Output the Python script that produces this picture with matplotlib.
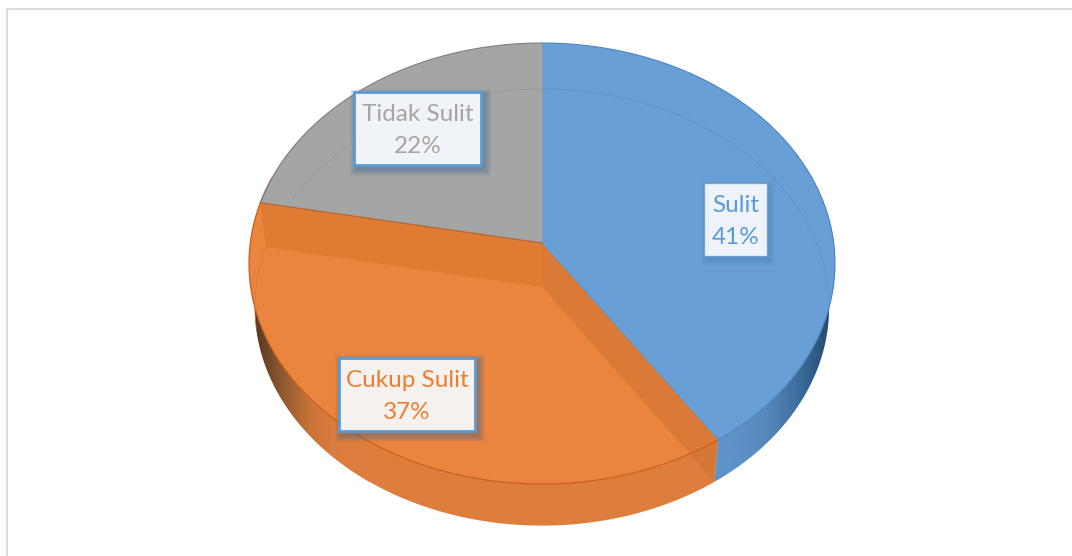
import numpy as np
import matplotlib
matplotlib.use("Agg")
import matplotlib.pyplot as plt
from matplotlib.colors import LinearSegmentedColormap
from matplotlib.patches import Polygon, Rectangle

# Data
categories = ["Sulit", "Cukup Sulit", "Tidak Sulit"]
values = [40.6, 37.4, 22.0]
face_colors = ["#689FD6", "#EA843F", "#A5A5A5"]
text_colors = ["#5B9BD5", "#ED7D31", "#A5A5A5"]

# Geometry of the tilted pie, in pixels
W, H = 1072, 556
cx, cy = 542, 243
rx, ry, k = 291.7, 218.6, 0.093
depth = 44
low_sx, low_sy = 0.98, 0.99


def top(theta):
    # theta is clockwise from 12 o'clock, perspective makes the near side bigger
    u, v = np.sin(theta), np.cos(theta)
    w = 1 + k * v
    return cx + rx * u / w, cy - ry * v / w


def low(theta):
    x, y = top(theta)
    return cx + (x - cx) * low_sx, cy + depth + (y - cy) * low_sy


def arc(f, a, b, n=200):
    x, y = f(np.linspace(a, b, n))
    return np.column_stack([x, y])


fig = plt.figure(figsize=(W / 100, H / 100), dpi=100)
ax = fig.add_axes([0, 0, 1, 1])
ax.set_xlim(0, W)
ax.set_ylim(H, 0)
ax.axis("off")

# thin frame of the screenshot
ax.plot([7, 7, W], [H, 9, 9], color="#DEDEDE", lw=1.6, zorder=1)

edges = np.cumsum([0] + values) / sum(values) * 2 * np.pi
blue_end, orange_end = edges[1], edges[2]

# outer wall, darker towards the tangent points
walls = [(0.40 * np.pi, blue_end, ["#5E93C8", "#5E93C8", "#5587BA", "#3A6A98", "#1F4468"], (700, 836)),
         (blue_end, 1.60 * np.pi, ["#4E3220", "#8A5630", "#C97438", "#DE7E3D", "#DE7E3D"], (250, 370))]
for a, b, ramp, (x0, x1) in walls:
    outline = np.vstack([arc(top, a, b), arc(low, b, a)])
    patch = Polygon(outline, closed=True, fc="none", ec="none", zorder=2)
    ax.add_patch(patch)
    cmap = LinearSegmentedColormap.from_list("wall", ramp)
    im = ax.imshow(np.linspace(0, 1, 256)[None, :], cmap=cmap, extent=(x0, x1, H, 0),
                   aspect="auto", interpolation="bilinear", zorder=2)
    im.set_clip_path(patch)
# the orange wall keeps its flat colour right of the ramp
flat = np.vstack([arc(top, blue_end, 1.60 * np.pi), arc(low, 1.60 * np.pi, blue_end)])
flat_patch = Polygon(flat, closed=True, fc="#DE7E3D", ec="none", zorder=1.9)
ax.add_patch(flat_patch)
ax.set_xlim(0, W)
ax.set_ylim(H, 0)

# top faces
faces = []
for i in range(3):
    pts = np.vstack([[cx, cy], arc(top, edges[i], edges[i + 1])])
    faces.append(ax.add_patch(Polygon(pts, closed=True, fc=face_colors[i], ec="none", zorder=3)))

# inner cut walls of the orange slice, seen through the surface
band1 = [top(blue_end), (cx, cy), (cx, cy + depth), low(blue_end)]
band2 = [(cx, cy), top(orange_end), low(orange_end), (cx, cy + depth)]
ax.add_patch(Polygon(band1, closed=True, fc="#C96E2E", ec="none", alpha=0.45, zorder=4))
ax.add_patch(Polygon(band2, closed=True, fc="#E07B34", ec="none", zorder=4))

# edges
front = arc(top, blue_end, 1.60 * np.pi)
ax.plot(front[:, 0], front[:, 1], color="#C8611E", lw=0.9, zorder=5)
front = arc(top, 0.40 * np.pi, blue_end)
ax.plot(front[:, 0], front[:, 1], color="#4F86BE", lw=0.8, zorder=5)
back = arc(top, orange_end, 2 * np.pi)
ax.plot(back[:, 0], back[:, 1], color="#7F7F7F", lw=0.8, zorder=5)
back = arc(top, 0, 0.40 * np.pi)
ax.plot(back[:, 0], back[:, 1], color="#4F86BE", lw=0.8, zorder=5)
ax.plot([cx, cx], [top(0)[1], cy], color="#8A9DB0", lw=0.8, zorder=5)
ax.plot([cx, top(blue_end)[0]], [cy, top(blue_end)[1]], color="#7A8FA0", lw=0.8, zorder=5)
ax.plot([cx, top(orange_end)[0]], [cy, top(orange_end)[1]], color="#A8663A", lw=0.8, zorder=5)

# far rim of the lower face, faint through the top
rim = arc(low, 1.5 * np.pi, 2 * np.pi)
line, = ax.plot(rim[:, 0], rim[:, 1], color="#979797", lw=0.5, zorder=5)
line.set_clip_path(faces[2])
rim = arc(low, 0, 0.52 * np.pi)
line, = ax.plot(rim[:, 0], rim[:, 1], color="#5C91C8", lw=0.5, zorder=5)
line.set_clip_path(faces[0])
rim = arc(low, 1.44 * np.pi, orange_end)
ax.plot(rim[:, 0], rim[:, 1], color="#D87A38", lw=0.5, zorder=5)

# labels: box left, top, right, bottom
boxes = [(705, 184, 766, 255), (339, 358, 475, 431), (354, 92, 481, 165)]
box_fills = ["#EEF3FA", "#F5F1EE", "#F0F3F7"]
borders = [False, True, True]
for name, val, tc, box, fill, border in zip(categories, values, text_colors, boxes, box_fills, borders):
    x0, y0, x1, y1 = box
    for grow in range(7, 0, -1):
        ax.add_patch(Rectangle((x0 + 3 - grow, y0 + 4 - grow), x1 - x0 + 2 * grow, y1 - y0 + 2 * grow,
                               fc="#35608E", ec="none", alpha=0.07 if border else 0.03, zorder=6))
    ax.add_patch(Rectangle((x0, y0), x1 - x0, y1 - y0, fc=fill, ec="#5B9BD5" if border else "#DCE6F2",
                           lw=2.0 if border else 1.0, zorder=7))
    ax.text((x0 + x1) / 2, (y0 + y1) / 2 + 2, f"{name}\n{val:.0f}%", color=tc, ha="center", va="center",
            fontsize=17.5, family="Lato", linespacing=1.62, zorder=8)

fig.savefig("out.png", dpi=100)
